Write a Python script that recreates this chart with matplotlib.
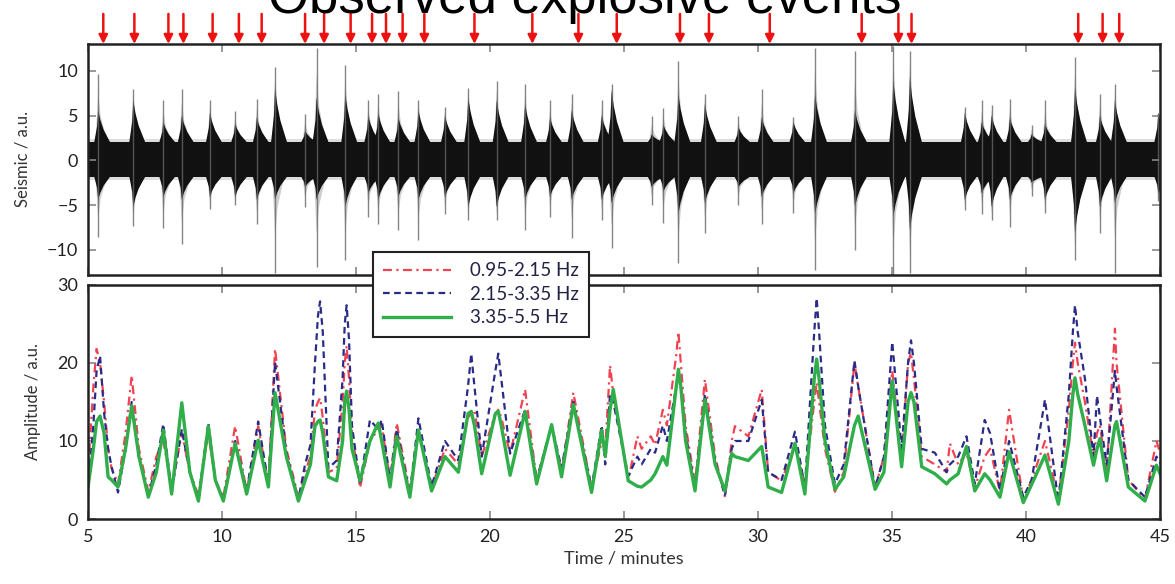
import numpy as np
import matplotlib.pyplot as plt

plt.rcParams['font.family'] = ['Lato', 'DejaVu Sans']

# 爆发事件时间 (分钟)
event_times = [5.57, 6.73, 8.0, 8.56, 9.65, 10.63, 11.48, 13.1, 13.81, 14.8,
               15.6, 16.12, 16.74, 17.55, 19.42, 21.58, 23.3, 24.73, 27.09,
               28.17, 30.44, 33.87, 35.24, 35.73, 41.95, 42.86, 43.48]

# 地震信号包络: 时间, 密集部分上/下限, 尖峰上/下限
seis_t = [5.38, 6.69, 7.81, 8.5, 9.55, 10.49, 11.3, 11.98, 13.1, 13.53, 14.6,
          15.46, 15.83, 16.58, 17.33, 18.32, 19.19, 20.25, 21.31, 22.24, 23.05,
          24.17, 24.54, 26.03, 26.47, 27.03, 28.02, 29.27, 30.14, 31.32, 32.13,
          33.62, 35.05, 35.67, 37.72, 38.35, 38.72, 39.4, 40.21, 40.71, 41.83,
          42.76, 43.32, 44.94]
seis_up = [5.6, 6.7, 4.3, 5.0, 5.3, 4.1, 4.8, 8.1, 3.3, 7.0, 7.4, 5.0, 5.3, 4.8,
           5.6, 5.0, 7.0, 6.7, 6.3, 4.8, 5.6, 5.0, 7.8, 2.9, 4.0, 7.4, 6.3, 3.7,
           4.8, 4.3, 7.4, 5.6, 8.9, 9.3, 5.3, 4.3, 5.0, 4.8, 2.9, 4.1, 8.1, 5.0,
           6.7, 5.3]
seis_dn = [-4.4, -5.2, -4.1, -4.4, -4.1, -4.1, -4.4, -4.4, -3.0, -4.4, -5.2,
           -3.7, -4.4, -4.1, -4.4, -4.1, -5.2, -5.2, -4.4, -4.1, -4.4, -4.4,
           -4.8, -3.0, -3.5, -6.0, -4.8, -3.0, -4.1, -3.7, -6.0, -5.2, -6.3,
           -7.8, -4.4, -3.7, -5.2, -4.4, -2.5, -4.4, -8.1, -5.2, -4.8, -3.7]
spike_up = [9.7, 8.0, 6.7, 8.0, 6.7, 5.5, 6.9, 10.4, 5.2, 12.6, 10.7, 6.7, 7.4,
            7.8, 6.7, 6.0, 8.1, 8.9, 8.5, 6.7, 7.4, 6.7, 8.5, 5.0, 5.9, 11.1,
            7.4, 5.0, 8.0, 4.8, 12.6, 12.2, 12.8, 12.2, 6.0, 6.7, 6.2, 6.9, 4.0,
            6.7, 11.5, 7.4, 8.5, 5.3]
spike_dn = [-8.5, -7.3, -7.6, -9.3, -5.4, -5.0, -7.1, -12.6, -5.2, -11.9,
            -11.1, -6.3, -7.1, -7.8, -8.9, -6.0, -6.7, -6.7, -7.8, -6.3, -8.7,
            -6.7, -9.8, -5.0, -7.0, -11.5, -8.1, -5.0, -7.1, -5.9, -12.2,
            -10.0, -13.0, -12.6, -5.5, -6.0, -6.7, -7.4, -4.0, -5.9, -11.1,
            -8.1, -12.6, -4.5]
base_up, base_dn = 2.0, -1.8

# 三个频带的振幅
minutes = [5.0, 5.2, 5.32, 5.45, 5.6, 5.75, 5.88, 6.12, 6.4, 6.63, 6.9, 7.25,
           7.55, 7.81, 8.12, 8.5, 8.8, 9.12, 9.49, 9.75, 10.05, 10.49, 10.92,
           11.35, 11.73, 11.98, 12.4, 12.85, 13.1, 13.3, 13.47, 13.58, 13.66,
           13.76, 13.97, 14.28, 14.5, 14.58, 14.65, 14.74, 14.85, 15.15, 15.52,
           15.83, 15.96, 16.27, 16.52, 17.01, 17.33, 17.82, 18.32, 18.82,
           19.18, 19.3, 19.42, 19.69, 20.2, 20.31, 20.42, 20.75, 21.31, 21.74,
           22.3, 22.67, 23.11, 23.79, 24.17, 24.3, 24.48, 24.6, 25.16, 25.5,
           25.66, 26.0, 26.16, 26.45, 26.6, 26.95, 27.03, 27.12, 27.3, 27.65,
           28.02, 28.4, 28.77, 29.02, 29.14, 29.64, 30.14, 30.38, 30.88, 31.38,
           31.75, 32.1, 32.19, 32.28, 32.5, 32.87, 33.2, 33.6, 33.74, 34.37,
           34.7, 35.01, 35.36, 35.6, 35.71, 35.82, 36.11, 36.6, 37.04, 37.16,
           37.47, 37.78, 38.09, 38.46, 38.66, 39.03, 39.37, 39.9, 40.21, 40.71,
           41.21, 41.6, 41.75, 41.83, 41.93, 42.2, 42.52, 42.65, 42.76, 43.01,
           43.32, 43.38, 43.82, 44.44, 44.87, 45.05]
band_low = [6, 17, 21.8, 20, 15, 9, 6.5, 4.5, 11, 18.4, 9, 3.5, 8, 10, 4, 11,
            6, 3, 11, 5, 2.8, 11.9, 3.5, 11.9, 4.5, 21.8, 9, 2.8, 6, 8, 14,
            15, 15.5, 13, 6, 6.5, 15, 20, 22.2, 18, 11, 4.0, 10, 11.5, 12, 5,
            12.3, 3.5, 11.5, 4, 9, 7, 13, 13.5, 14, 8, 13.5, 14, 13, 8.4, 16.6,
            5, 12, 6, 16.2, 4, 10, 9, 19.7, 16, 5, 10.6, 9, 10.6, 9.5, 14, 12,
            21, 24.0, 20, 12, 4.5, 17.9, 8, 2.8, 10, 11.9, 10.6, 16.6, 6, 4.9,
            9.5, 4.5, 15, 17.5, 15, 9, 3.5, 6, 20, 17, 4, 8, 19, 8, 20, 21.3,
            18, 8, 7, 6, 9.7, 7, 8.5, 4, 8, 9, 3.5, 14.0, 2.5, 5, 10, 2.5, 14,
            20, 22.6, 20, 15, 8, 11, 12, 6, 24.4, 20, 5, 2.6, 10, 8]
band_mid = [4, 12, 19, 20.9, 13.6, 9, 6.7, 3.4, 9, 15, 8, 3.0, 7, 12.2, 3.5,
            11.5, 6, 2.6, 12.3, 5, 2.5, 10, 3.6, 12.5, 4.5, 20.1, 8.5, 2.5, 7,
            9.5, 20, 26, 27.9, 24, 6.5, 7.5, 18, 25, 27.4, 23, 12, 4.4, 12.7,
            11.5, 12.7, 5, 11.5, 3.2, 12.9, 4.2, 10, 7.5, 17, 21.2, 17, 8, 19,
            21.2, 18, 8.4, 14, 5, 12, 6.5, 15, 4, 12, 7, 16, 15, 5.5, 8, 7, 9,
            8.5, 12, 10, 17, 19, 17, 11, 4, 16, 7.5, 3, 9, 10, 10, 15.3, 6,
            5.0, 11.2, 4.0, 24, 28.3, 24, 12, 4.5, 7, 20.3, 17, 4, 8, 22.7, 9,
            20, 22.9, 20, 9, 8.5, 6, 7, 8, 10.6, 4.5, 12.7, 11, 3.6, 10, 2.8,
            5, 15.3, 2.2, 16, 24, 27.4, 24, 18, 8, 15.8, 13, 7, 19, 17, 5, 2.8,
            8, 7]
band_high = [4.1, 9, 12.5, 13.2, 11, 5.4, 5.0, 4.1, 9, 14.5, 8, 2.8, 6, 11.4,
             3.2, 14.9, 6, 2.3, 11.9, 5, 2.3, 9.7, 3.2, 10.1, 4.1, 16.2, 8,
             2.3, 4.9, 7, 11.9, 12.5, 12.7, 11, 5.4, 4.9, 10, 15, 16.4, 14, 9,
             4.9, 10, 12.3, 10, 4.1, 10.6, 2.8, 11.4, 3.6, 8.0, 6.0, 13.5,
             13.8, 12, 5.8, 13.5, 13.8, 12, 5.6, 13.8, 4.5, 12.1, 5.4, 14.7,
             3.4, 11.4, 8, 14, 16.6, 4.9, 4.2, 4.1, 5, 5.8, 8.0, 6.9, 17, 19.2,
             17, 10, 3.6, 15.3, 7, 3.6, 8.4, 8, 7.5, 9.3, 4.1, 3.4, 9.7, 3.2,
             18, 20.5, 18, 10, 3.8, 5.4, 12, 13.2, 3.8, 6, 17.7, 6.7, 15,
             16.2, 15, 6.7, 5.8, 4.5, 5, 5.8, 9.3, 3.6, 5.8, 5, 2.8, 8.6, 2.1,
             4.4, 8.2, 1.9, 10, 16, 18.1, 16, 12, 6.9, 9, 10.3, 4.9, 12, 12.5,
             4.1, 2.3, 6.9, 5.4]
band_labels = ['0.95-2.15 Hz', '2.15-3.35 Hz', '3.35-5.5 Hz']

fig = plt.figure(figsize=(11.75, 5.84), dpi=100)
ax1 = fig.add_axes([0.0749, 0.5291, 0.9123, 0.3956])
ax2 = fig.add_axes([0.0749, 0.1113, 0.9123, 0.4007])

# 上图: 地震记录 (背景噪声带 + 每次事件的包络和尖峰)
ax1.axhspan(base_dn - 0.4, base_up + 0.4, color='#555555', alpha=0.2, lw=0)
ax1.axhspan(base_dn, base_up, color='#111111', lw=0)
for t, up, dn, sup, sdn in zip(seis_t, seis_up, seis_dn, spike_up, spike_dn):
    # 浅灰色外包络
    hu, hd = 0.5 * (up + sup), 0.5 * (dn + sdn)
    ax1.fill([t - 0.1, t, t + 0.1, t + 0.35, t + 0.35, t + 0.1, t, t - 0.1],
             [base_up, hu, 0.5 * (hu + base_up), base_up,
              base_dn, 0.5 * (hd + base_dn), hd, base_dn],
             color='#888888', alpha=0.4, lw=0)
    # 密集部分
    ax1.fill([t - 0.15, t - 0.04, t, t + 0.08, t + 0.2, t + 0.45,
              t + 0.45, t + 0.2, t + 0.08, t, t - 0.04, t - 0.15],
             [base_up, 0.5 * (up + base_up), up, 0.7 * up + 0.3 * base_up,
              0.4 * up + 0.6 * base_up, base_up,
              base_dn, 0.4 * dn + 0.6 * base_dn, 0.7 * dn + 0.3 * base_dn,
              dn, 0.5 * (dn + base_dn), base_dn],
             color='#111111', lw=0)
    ax1.vlines(t, sdn, sup, color='#666666', lw=1.0, alpha=0.8)
ax1.set_xlim(5, 45)
ax1.set_ylim(-12.8, 13)
ax1.set_yticks([-10, -5, 0, 5, 10])
ax1.set_xticks(range(5, 50, 5))
ax1.set_xticklabels([])
ax1.set_ylabel('Seismic / a.u.', fontsize=12, color='#333333', labelpad=12)

# 事件箭头
for t in event_times:
    ax1.annotate('', xy=(t, 1.0), xycoords=('data', 'axes fraction'),
                 xytext=(t, 1.13), textcoords=('data', 'axes fraction'),
                 arrowprops=dict(arrowstyle='-|>', color='#ee1111', lw=1.8,
                                 mutation_scale=13, shrinkA=0, shrinkB=0),
                 annotation_clip=False)

# 下图: 各频带振幅
l1, = ax2.plot(minutes, band_low, color='#ee2233', lw=1.6, ls=(0, (4, 2, 1, 2)),
               alpha=0.85)
l2, = ax2.plot(minutes, band_mid, color='#2a2a88', lw=1.6, ls=(0, (3, 2)))
l3, = ax2.plot(minutes, band_high, color='#2fae4a', lw=2.4)
ax2.set_xlim(5, 45)
ax2.set_ylim(0, 30)
ax2.set_yticks([0, 10, 20, 30])
ax2.set_xticks(range(5, 50, 5))
ax2.set_xlabel('Time / minutes', fontsize=13, color='#333333')
ax2.set_ylabel('Amplitude / a.u.', fontsize=12, color='#333333', labelpad=12)

for ax in (ax1, ax2):
    ax.tick_params(direction='in', top=True, right=True, length=6, width=1.2,
                   color='#888888', labelsize=13, labelcolor='#222222', pad=7)
    for s in ax.spines.values():
        s.set_linewidth(1.8)
        s.set_color('#222222')

leg = fig.legend([l1, l2, l3], band_labels, loc='upper left',
                 bbox_to_anchor=(0.3174, 0.5685), borderaxespad=0,
                 fontsize=13.5, frameon=True, fancybox=False,
                 edgecolor='#222222', framealpha=1, handlelength=3.6,
                 handletextpad=1.0, borderpad=0.55, labelspacing=0.35)
leg.get_frame().set_linewidth(1.5)
for txt in leg.get_texts():
    txt.set_color('#222244')

fig.text(0.498, 0.9769, 'Observed explosive events', fontsize=38,
         family='Liberation Sans', ha='center', va='baseline')

fig.savefig('out.png', dpi=100)
